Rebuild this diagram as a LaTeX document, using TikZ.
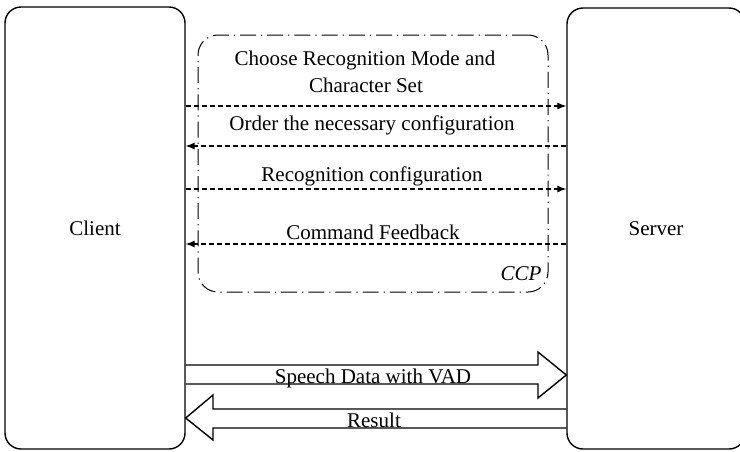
\documentclass[tikz,border=0pt]{standalone}
\usepackage{fontspec}
\setmainfont{Liberation Serif}
\usetikzlibrary{arrows.meta}
\begin{document}
\begin{tikzpicture}[x=1pt,y=-1pt,
  every node/.style={font=\fontsize{21}{25}\selectfont, inner sep=0pt},
  endbox/.style={draw, line width=1.4pt, rounded corners=16pt},
  ccpbox/.style={draw, line width=1pt, rounded corners=20pt,
     dash pattern=on 16pt off 5pt on 1.2pt off 5pt},
  msg/.style={draw, line width=1.1pt, dash pattern=on 5pt off 3pt,
     -{Latex[length=9pt,width=7pt]}},
  fat/.style={draw, line width=1.4pt, line join=miter},
  lbl/.style={anchor=base}]
\useasboundingbox (0,0) rectangle (740,451);
\fill[white] (0,0) rectangle (740,451);
% end boxes
\node[endbox, minimum width=180pt, minimum height=442pt] (client) at (95,228) {Client};
\node[endbox, minimum width=178pt, minimum height=441pt] (server) at (656,228.5) {Server};
% CCP box
\node[ccpbox, minimum width=350pt, minimum height=257pt] (ccp) at (373,163.5) {};
\node[lbl, font=\fontsize{21}{25}\selectfont\itshape] (ccplbl) at (521,280) {CCP};
% messages
\coordinate (y1) at (0,106);
\coordinate (y2) at (0,146);
\coordinate (y3) at (0,189);
\coordinate (y4) at (0,244);
\node[lbl] (t1a) at (365,65) {Choose Recognition Mode and};
\node[lbl] (t1b) at (366,92) {Character Set};
\draw[msg] (client.east |- y1) -- (server.west |- y1);
\node[lbl] (t2) at (372,130) {Order the necessary configuration};
\draw[msg] (server.west |- y2) -- (client.east |- y2);
\node[lbl] (t3) at (372,181) {Recognition configuration};
\draw[msg] (client.east |- y3) -- (server.west |- y3);
\node[lbl] (t4) at (373,239) {Command Feedback};
\draw[msg] (server.west |- y4) -- (client.east |- y4);
% big arrows
\coordinate (s1) at (0,365);
\coordinate (s2) at (0,384);
\coordinate (sm) at (0,375);
\draw[fat] (client.east |- s1) -- (538,365) -- (538,352) -- (server.west |- sm)
   -- (538,398) -- (538,384) -- (client.east |- s2);
\node[lbl] (t5) at (373,383) {Speech Data with VAD};
\coordinate (r1) at (0,409);
\coordinate (r2) at (0,428);
\coordinate (rm) at (0,418);
\draw[fat] (server.west |- r1) -- (213,409) -- (213,395) -- (client.east |- rm)
   -- (213,440) -- (213,428) -- (server.west |- r2);
\node[lbl] (t6) at (374,427) {Result};
\end{tikzpicture}
\end{document}
